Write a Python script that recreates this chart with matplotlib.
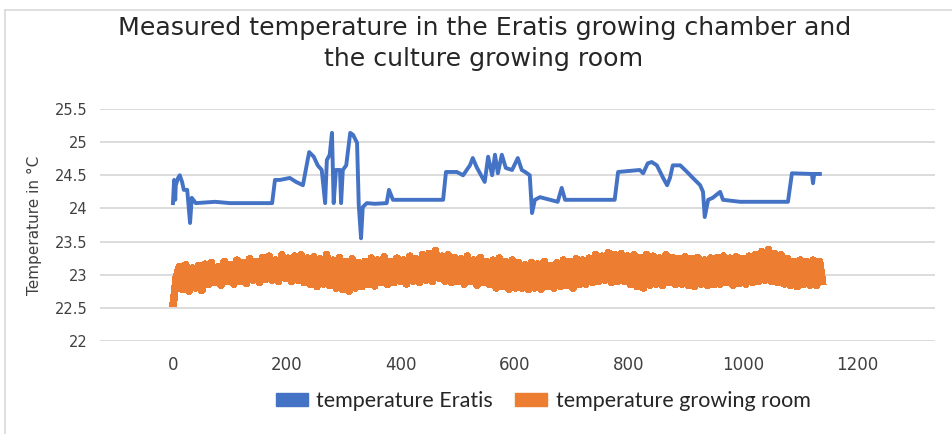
import numpy as np
import matplotlib
matplotlib.use("Agg")
import matplotlib.pyplot as plt
from matplotlib.patches import Patch
from matplotlib.lines import Line2D

# ---------------- data ----------------
title = "Measured temperature in the Eratis growing chamber and\nthe culture growing room"
ylabel = "Temperature in °C"
series_names = ["temperature Eratis", "temperature growing room"]
x_ticks = [0, 200, 400, 600, 800, 1000, 1200]
y_ticks = [22, 22.5, 23, 23.5, 24, 24.5, 25, 25.5]

eratis_x = [0, 2, 4, 5, 9, 12, 16, 19, 25, 30, 33, 40, 74, 100, 174, 179, 188, 205,
            216, 228, 233, 239, 247, 254, 261, 267, 270, 275, 279, 282, 286, 293,
            295, 298, 304, 311, 316, 323, 326, 330, 333, 340, 354, 375, 379, 386,
            398, 474, 479, 498, 509, 521, 526, 533, 547, 553, 560, 565, 570, 577,
            584, 595, 605, 612, 618, 626, 630, 635, 644, 675, 682, 688, 714, 775,
            781, 819, 825, 833, 840, 849, 860, 867, 872, 877, 890, 902, 911, 925,
            930, 933, 939, 947, 960, 965, 995, 1079, 1086, 1121, 1123, 1125, 1135]
eratis_y = [24.08, 24.43, 24.13, 24.35, 24.46, 24.50, 24.40, 24.28, 24.28, 23.78,
            24.16, 24.08, 24.10, 24.08, 24.08, 24.43, 24.43, 24.46, 24.40, 24.35,
            24.58, 24.85, 24.78, 24.65, 24.58, 24.08, 24.73, 24.81, 25.14, 24.08,
            24.58, 24.58, 24.08, 24.58, 24.65, 25.14, 25.11, 24.99, 24.05, 23.55,
            24.02, 24.08, 24.07, 24.08, 24.28, 24.13, 24.13, 24.13, 24.55, 24.55,
            24.50, 24.65, 24.76, 24.62, 24.40, 24.78, 24.50, 24.81, 24.53, 24.81,
            24.61, 24.58, 24.76, 24.58, 24.55, 24.50, 23.93, 24.13, 24.17, 24.10,
            24.31, 24.13, 24.13, 24.13, 24.55, 24.58, 24.53, 24.68, 24.70, 24.65,
            24.46, 24.35, 24.46, 24.65, 24.65, 24.55, 24.47, 24.35, 24.25, 23.87,
            24.13, 24.16, 24.25, 24.13, 24.10, 24.10, 24.53, 24.52, 24.38, 24.52,
            24.52]

room_y = [22.52, 22.95, 23.12, 22.78, 23.15, 22.75, 23.10, 22.80, 23.14, 22.76,
          23.16, 22.85, 23.18, 22.88, 23.12, 22.84, 23.20, 22.90, 23.15, 22.86,
          23.22, 22.90, 23.18, 22.87, 23.24, 22.92, 23.20, 22.88, 23.26, 22.93,
          23.28, 22.92, 23.22, 22.90, 23.30, 22.95, 23.25, 22.90, 23.28, 22.92,
          23.30, 22.88, 23.25, 22.85, 23.27, 22.82, 23.24, 22.86, 23.30, 22.84,
          23.22, 22.80, 23.26, 22.78, 23.20, 22.75, 23.24, 22.80, 23.18, 22.82,
          23.20, 22.85, 23.25, 22.83, 23.22, 22.88, 23.27, 22.85, 23.20, 22.88,
          23.25, 22.90, 23.22, 22.86, 23.28, 22.90, 23.24, 22.88, 23.30, 22.92,
          23.32, 22.90, 23.36, 22.95, 23.28, 22.90, 23.30, 22.88, 23.26, 22.90,
          23.24, 22.86, 23.28, 22.90, 23.22, 22.84, 23.26, 22.88, 23.20, 22.85,
          23.22, 22.80, 23.25, 22.82, 23.20, 22.78, 23.22, 22.80, 23.18, 22.80,
          23.15, 22.78, 23.18, 22.80, 23.16, 22.78, 23.20, 22.82, 23.14, 22.80,
          23.18, 22.82, 23.22, 22.84, 23.20, 22.80, 23.24, 22.85, 23.22, 22.86,
          23.25, 22.88, 23.30, 22.90, 23.28, 22.92, 23.33, 22.88, 23.30, 22.90,
          23.32, 22.90, 23.28, 22.85, 23.30, 22.82, 23.26, 22.80, 23.30, 22.84,
          23.28, 22.86, 23.25, 22.84, 23.30, 22.88, 23.26, 22.85, 23.24, 22.86,
          23.27, 22.84, 23.24, 22.82, 23.26, 22.86, 23.22, 22.84, 23.25, 22.85,
          23.26, 22.86, 23.28, 22.88, 23.25, 22.84, 23.27, 22.87, 23.24, 22.86,
          23.28, 22.88, 23.30, 22.90, 23.35, 22.92, 23.38, 22.90, 23.32, 22.88,
          23.30, 22.86, 23.24, 22.84, 23.20, 22.82, 23.22, 22.85, 23.20, 22.84,
          23.22, 22.84, 23.20, 22.85]
room_x = np.linspace(0, 1140, len(room_y))  # sample positions

# ---------------- plot ----------------
BLUE = "#4472C4"
ORANGE = "#ED7D31"
TXT = "#404040"

plt.rcParams["font.family"] = ["DejaVu Sans"]

fig = plt.figure(figsize=(9.52, 4.34), dpi=100)
ax = fig.add_axes([100 / 952, 1 - 341 / 434, (935 - 100) / 952, (341 - 109) / 434])

ax.plot(room_x, room_y, color=ORANGE, lw=4.8, solid_joinstyle="round",
        solid_capstyle="butt", antialiased=False, zorder=3)
ax.plot(eratis_x, eratis_y, color=BLUE, lw=2.8, zorder=4)

ax.set_xlim(-128, 1337)
ax.set_ylim(22, 25.5)
ax.set_yticks(y_ticks)
ax.set_yticklabels([f"{v:g}" for v in y_ticks])
ax.set_xticks(x_ticks)
ax.set_xticklabels([str(v) for v in x_ticks])
ax.tick_params(axis="both", length=0, colors=TXT)
ax.tick_params(axis="y", pad=9, labelsize=10.5)
ax.tick_params(axis="x", pad=11, labelsize=12)
ax.grid(axis="y", color="#d9d9d9", lw=1.3)
ax.set_axisbelow(True)
for s in ax.spines.values():
    s.set_visible(False)

ax.set_ylabel(ylabel, color=TXT, fontsize=11, labelpad=9,
              family=["Liberation Sans Narrow", "DejaVu Sans"])

title_lines = title.split("\n")
fig.text(485 / 952, 1 - 35 / 434, title_lines[0], ha="center", va="baseline",
         fontsize=18.2, color="#262626")
fig.text(484 / 952, 1 - 66 / 434, title_lines[1], ha="center", va="baseline",
         fontsize=18.2, color="#262626")

handles = [Patch(facecolor=BLUE, edgecolor=BLUE), Patch(facecolor=ORANGE, edgecolor=ORANGE)]
fig.legend(handles, series_names, loc="center", bbox_to_anchor=(543 / 952, 1 - 401 / 434),
           ncol=2, frameon=False, handlelength=1.5, handleheight=0.55,
           columnspacing=1.0, handletextpad=0.4, labelcolor="#262626",
           prop={"family": ["Lato", "DejaVu Sans"], "size": 15.5})

# chart border (left and top edges visible in reference)
fig.add_artist(Line2D([5 / 952, 5 / 952], [0, 1 - 10 / 434], color="#d9d9d9", lw=1.2))
fig.add_artist(Line2D([5 / 952, 1], [1 - 10 / 434, 1 - 10 / 434], color="#d9d9d9", lw=1.2))

fig.savefig("out.png", dpi=100)
